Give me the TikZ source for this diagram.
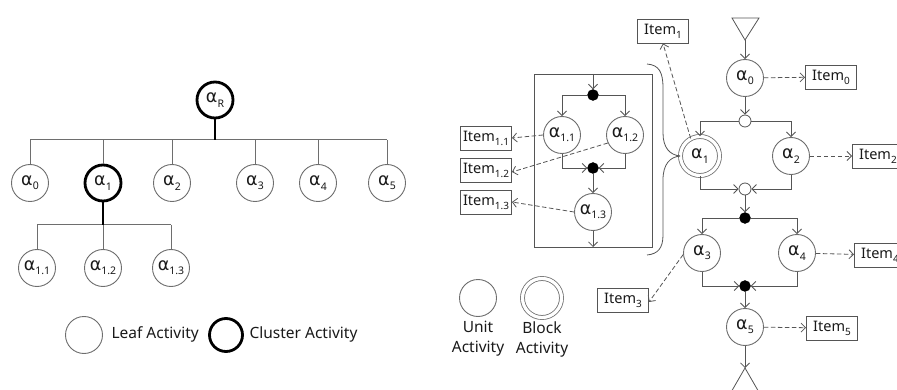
\documentclass[tikz,border=0pt]{standalone}
\usepackage{fontspec}
\setmainfont{Noto Sans}
\newfontfamily\gk{DejaVu Sans}
\usetikzlibrary{arrows.meta}
\definecolor{ln}{HTML}{555555}
\definecolor{cl}{HTML}{6E6E6E}
\definecolor{tx}{HTML}{1A1A1A}
\newcommand{\al}[1]{{\gk α}\raisebox{-0.45ex}{\fontsize{10.5}{10.5}\selectfont #1}}
\newcommand{\itm}[1]{Item\raisebox{-0.5ex}{\fontsize{10}{10}\selectfont #1}}
\begin{document}
\begin{tikzpicture}[x=1pt,y=-1pt,font=\fontsize{14.5}{16}\selectfont,text=tx,
  act/.style={circle,draw=cl,line width=0.9pt,minimum size=37pt,inner sep=0pt,fill=white,font=\fontsize{17.5}{17.5}\selectfont},
  clus/.style={act,draw=black,line width=2.8pt,minimum size=36pt},
  blk/.style={act,minimum size=39pt,draw=cl,double=white,double distance=3.2pt,line width=0.8pt},
  dotb/.style={circle,fill=black,draw=black,minimum size=11pt,inner sep=0pt},
  dotw/.style={circle,fill=white,draw=ln,line width=0.8pt,minimum size=12pt,inner sep=0pt},
  itembox/.style={draw=ln,line width=0.9pt,rectangle,minimum width=51pt,minimum height=24pt,inner sep=2pt,fill=white},
  tline/.style={draw=cl,line width=1pt},
  kline/.style={draw=black,line width=1.4pt},
  arr/.style={draw=ln,line width=0.8pt,-{Straight Barb[length=4.5pt,width=9pt]}},
  dsh/.style={arr,dash pattern=on 4.5pt off 2.5pt},
  fl/.style={draw=ln,line width=0.8pt},
  lgtext/.style={font=\fontsize{15.5}{20}\selectfont}]
\useasboundingbox (0,0) rectangle (897,390);
\clip (0,0) rectangle (897,390);
\fill[white] (0,0) rectangle (897,390);

% ---------- left tree ----------
\coordinate (bl) at (30,140);
\coordinate (br) at (387,140);
\coordinate (rb) at (215,140);
\draw[tline] (bl) -- (br);
\node[act] (a0) at (30,183) {\al{0}};
\node[clus] (a1) at (103,183) {\al{1}};
\node[act] (a2) at (172,183) {\al{2}};
\node[act] (a3) at (255,183) {\al{3}};
\node[act] (a4) at (318,183) {\al{4}};
\node[act] (a5) at (387,183) {\al{5}};
\node[clus] (aR) at (215,100) {\al{R}};
\draw[kline] (aR) -- (rb);
\foreach \n in {a0,a1,a2,a3,a4,a5} \draw[tline] (\n.north |- rb) -- (\n.north);
\coordinate (sl) at (37,225);
\coordinate (sr) at (171,225);
\coordinate (sb) at (103,225);
\draw[tline] (sl) -- (sr);
\draw[kline] (a1) -- (sb);
\node[act] (a11) at (37,268) {\al{1.1}};
\node[act] (a12) at (103,268) {\al{1.2}};
\node[act] (a13) at (171,268) {\al{1.3}};
\foreach \n in {a11,a12,a13} \draw[tline] (\n.north |- sb) -- (\n.north);

% legend left
\node[act] (lg1) at (84,335) {};
\node[anchor=west,lgtext] (lt1) at (108,334) {Leaf Activity};
\node[clus,minimum size=33pt] (lg2) at (226,335) {};
\node[anchor=west,lgtext] (lt2) at (246,334) {Cluster Activity};

% ---------- right: block of alpha1 ----------
\node[draw=ln,line width=0.9pt,minimum width=118pt,minimum height=173pt,inner sep=0pt] (box) at (593,160.5) {};
\coordinate (btop) at (593,74);
\coordinate (bbot) at (593,247);
\node[dotb] (f1) at (593,95) {};
\node[act] (b11) at (562,135) {\al{1.1}};
\node[act] (b12) at (625,135) {\al{1.2}};
\node[dotb] (j1) at (593,168) {};
\node[act] (b13) at (593,212) {\al{1.3}};
\draw[arr] (btop) -- (f1);
\draw[arr] (f1) -| (b11);
\draw[arr] (f1) -| (b12);
\draw[arr] (b11) |- (j1);
\draw[arr] (b12) |- (j1);
\draw[arr] (j1) -- (b13);
\draw[arr] (b13) -- (bbot);
\node[itembox] (i11) at (486,138) {\itm{1.1}};
\node[itembox] (i12) at (486,170) {\itm{1.2}};
\node[itembox] (i13) at (486,202) {\itm{1.3}};
\draw[dsh] (b11.west) -- (i11.east);
\draw[dsh] (b12.205) -- ([yshift=-2pt]i12.east);
\draw[dsh] (b13.west) -- (i13.east);

% ---------- right: main flow ----------
\coordinate (tl) at (732,18);
\coordinate (tr) at (759,18);
\coordinate (tt) at (745,40);
\draw[fl] (tl) -- (tr) -- (tt) -- cycle;
\node[act] (r0) at (745,78) {\al{0}};
\node[itembox] (i0) at (831,77) {\itm{0}};
\node[dotw] (w1) at (745,121) {};
\node[blk] (r1) at (700,156) {\al{1}};
\node[act] (r2) at (791,156) {\al{2}};
\node[itembox,anchor=west] (i2) at (852,156) {\itm{2}};
\node[dotw] (w2) at (745,189) {};
\node[dotb] (k1) at (745,218) {};
\node[act] (r3) at (702,253) {\al{3}};
\node[act] (r4) at (797,253) {\al{4}};
\node[itembox,anchor=west,inner sep=1.5pt] (i4) at (854,255) {\itm{4}};
\node[dotb] (k2) at (745,286) {};
\node[act] (r5) at (745,327) {\al{5}};
\node[itembox] (i5) at (832,328) {\itm{5}};
\coordinate (bt) at (745,368);
\coordinate (bl2) at (730,394);
\coordinate (br2) at (760,394);
\draw[fl] (bl2) -- (bt) -- (br2);
\node[itembox] (i1) at (663,31) {\itm{1}};
\node[itembox] (i3) at (623,300) {\itm{3}};

\draw[arr] (tt) -- (r0);
\draw[dsh] (r0) -- (i0);
\draw[arr] (r0) -- (w1);
\draw[arr] (w1) -| (r1);
\draw[arr] (w1) -| (r2);
\draw[dsh] (r2) -- (i2);
\draw[arr] (r1) |- (w2);
\draw[arr] (r2) |- (w2);
\draw[arr] (w2) -- (k1);
\draw[arr] (k1) -| (r3);
\draw[arr] (k1) -| (r4);
\draw[dsh] (r4) -- (i4);
\draw[arr] (r3) |- (k2);
\draw[arr] (r4) |- (k2);
\draw[arr] (k2) -- (r5);
\draw[dsh] (r5) -- (i5);
\draw[arr] (r5) -- (bt);
\draw[dsh] (r1.118) -- (i1.south);
\draw[dsh] (r3.185) -- ([yshift=-2pt]i3.east);

% brace
\draw[fl] (647,64) .. controls (659,65) and (663,72) .. (663,88) -- (663,133)
  .. controls (663,148) and (670,155) .. (r1.west);
\draw[fl] (r1.west) .. controls (670,157) and (663,164) .. (663,180) -- (663,235)
  .. controls (663,248) and (658,254) .. (647,255);

% legend right
\node[act] (u1) at (478,298) {};
\node[blk] (u2) at (542,298) {};
\node[align=center,lgtext,anchor=north] (ut) at (478,318) {Unit\\Activity};
\node[align=center,lgtext,anchor=north] (bt2) at (542,318) {Block\\Activity};
\end{tikzpicture}
\end{document}
